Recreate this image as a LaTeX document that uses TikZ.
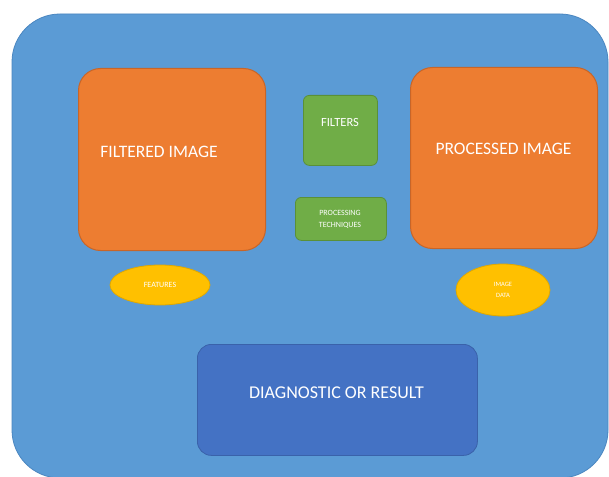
\documentclass[tikz,border=0pt]{standalone}
\usepackage{fontspec}
\setmainfont{Carlito}
\usetikzlibrary{shapes.geometric}
\definecolor{bgblue}{HTML}{5B9BD5}
\definecolor{bgblueline}{HTML}{4A86C0}
\definecolor{orng}{HTML}{ED7D31}
\definecolor{orngline}{HTML}{C86528}
\definecolor{grn}{HTML}{70AD47}
\definecolor{grnline}{HTML}{5A9038}
\definecolor{yel}{HTML}{FFC000}
\definecolor{yelline}{HTML}{E0A800}
\definecolor{dkblue}{HTML}{4472C4}
\definecolor{dkblueline}{HTML}{3A62AA}
\tikzset{
  x=1pt,y=-1pt,
  panel/.style={rounded corners=48pt,fill=bgblue,draw=bgblueline,line width=0.8pt},
  imgbox/.style={rounded corners=22pt,fill=orng,draw=orngline,line width=1pt},
  bigtext/.style={text=white,font=\fontsize{17.5}{20}\selectfont,inner sep=0pt},
  tool/.style={rounded corners=6pt,fill=grn,draw=grnline,line width=0.8pt,text=white},
  tag/.style={ellipse,fill=yel,draw=yelline,line width=0.8pt,text=white,align=center,inner sep=0pt},
  result/.style={rounded corners=14pt,fill=dkblue,draw=dkblueline,line width=0.8pt}
}
\begin{document}
\begin{tikzpicture}
\useasboundingbox (0,0) rectangle (609,476);
\fill[white] (0,0) rectangle (609,476);
\draw[panel] (12,14) rectangle (608,478);
\node[imgbox,minimum width=187pt,minimum height=182pt,anchor=north west] (filt) at (78,68) {};
\node[bigtext] (filtlbl) at (159,152) {FILTERED IMAGE};
\node[imgbox,minimum width=187pt,minimum height=181pt,anchor=north west] (proc) at (410,67) {};
\node[bigtext] (proclbl) at (503.5,149) {PROCESSED IMAGE};
\node[tool,minimum width=74pt,minimum height=70pt,anchor=north west] (filters) at (303,95) {};
\node[text=white,font=\fontsize{12.5}{14}\selectfont,inner sep=0pt] (filterslbl) at (340,122) {FILTERS};
\node[tool,minimum width=91pt,minimum height=43pt,anchor=north west] (tech) at (295,197) {};
\node[text=white,font=\fontsize{8}{12}\selectfont,align=center,inner sep=0pt] (techlbl) at (340,219) {PROCESSING\\TECHNIQUES};
\node[tag,minimum width=100pt,minimum height=40pt,font=\fontsize{8}{10}\selectfont] (feat) at (160,285) {FEATURES};
\node[tag,minimum width=94pt,minimum height=52pt,font=\fontsize{6.5}{11}\selectfont] (data) at (503,290) {IMAGE\\DATA};
\node[result,minimum width=280pt,minimum height=111pt,anchor=north west] (res) at (197,344) {};
\node[text=white,font=\fontsize{18}{20}\selectfont,inner sep=0pt] (reslbl) at (336.5,393) {DIAGNOSTIC OR RESULT};
\end{tikzpicture}
\end{document}
